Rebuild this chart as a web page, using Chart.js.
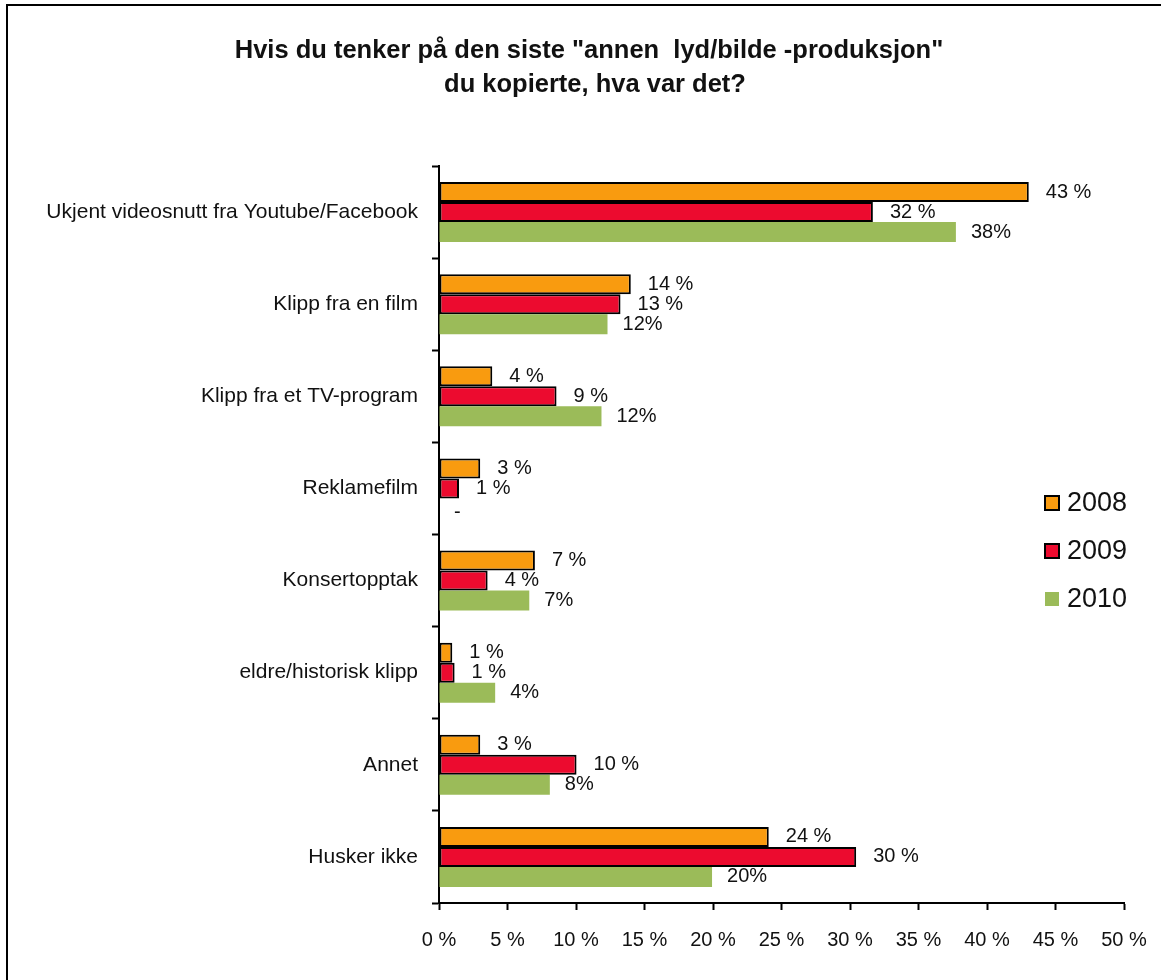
<!DOCTYPE html>
<html>
<head>
<meta charset="utf-8">
<script src="https://cdn.jsdelivr.net/npm/chart.js@4"></script>
<style>
  html, body { margin: 0; padding: 0; background: #fff; overflow: hidden; }
  canvas { display: block; }
</style>
</head>
<body>
<canvas id="c" width="1161" height="980"></canvas>
<script>
const titleLines = ['Hvis du tenker på den siste "annen  lyd/bilde -produksjon"', 'du kopierte, hva var det?'];
const categories = [
  'Ukjent videosnutt fra Youtube/Facebook',
  'Klipp fra en film',
  'Klipp fra et TV-program',
  'Reklamefilm',
  'Konsertopptak',
  'eldre/historisk klipp',
  'Annet',
  'Husker ikke'
];
const seriesNames = ['2008', '2009', '2010'];
const values2008 = [43.05, 14.0, 3.89, 3.01, 7.0, 0.97, 3.01, 24.07];
const values2009 = [31.67, 13.25, 8.58, 1.46, 3.55, 1.14, 10.04, 30.45];
const values2010 = [37.73, 12.3, 11.86, 0, 6.59, 4.1, 8.09, 19.93];
const labelSuffixes = [' %', ' %', '%'];
const xTickValues = [0, 5, 10, 15, 20, 25, 30, 35, 40, 45, 50];

const colors = ['#F99B0F', '#EC0B2F', '#9BBB59'];
const borders = ['#000000', '#000000', 'rgba(0,0,0,0)'];
const borderWidths = [2, 2, 0];
const FONT = "'Liberation Sans', Arial, sans-serif";
const TEXT = '#111111';

const framePlugin = {
  id: 'frame',
  beforeDraw(chart) {
    const ctx = chart.ctx;
    ctx.save();
    ctx.strokeStyle = '#000';
    ctx.lineWidth = 2;
    ctx.beginPath();
    ctx.moveTo(7, chart.height + 5);
    ctx.lineTo(7, 5);
    ctx.lineTo(chart.width + 5, 5);
    ctx.stroke();
    // title
    ctx.fillStyle = TEXT;
    ctx.font = 'bold 25.5px ' + FONT;
    ctx.textAlign = 'center';
    ctx.textBaseline = 'middle';
    const centers = [589, 595];
    titleLines.forEach((line, i) => ctx.fillText(line, centers[i], 51 + i * 34));
    ctx.restore();
  }
};

const dataLabelPlugin = {
  id: 'dataLabels',
  afterDatasetsDraw(chart) {
    const ctx = chart.ctx;
    ctx.save();
    ctx.font = '20px ' + FONT;
    ctx.fillStyle = TEXT;
    ctx.textAlign = 'left';
    ctx.textBaseline = 'middle';
    chart.data.datasets.forEach((ds, di) => {
      const meta = chart.getDatasetMeta(di);
      meta.data.forEach((bar, i) => {
        const v = ds.data[i];
        const zero = v === 0;
        const txt = zero ? '-' : Math.round(v) + labelSuffixes[di];
        const off = di === 2 ? 15 : 17;
        ctx.fillText(txt, bar.x + off, bar.y + (zero ? 4 : 0));
      });
    });
    ctx.restore();
  }
};

const legendPlugin = {
  id: 'customLegend',
  afterDraw(chart) {
    const ctx = chart.ctx;
    ctx.save();
    const boxX = 1045, textX = 1067, y0 = 503, step = 48, box = 14;
    chart.data.datasets.forEach((ds, i) => {
      const cy = y0 + i * step;
      ctx.fillStyle = ds.backgroundColor;
      ctx.fillRect(boxX, cy - box / 2, box, box);
      if (ds.borderWidth > 0) {
        ctx.strokeStyle = '#000';
        ctx.lineWidth = 2;
        ctx.strokeRect(boxX, cy - box / 2, box, box);
      }
      ctx.fillStyle = TEXT;
      ctx.font = '27px ' + FONT;
      ctx.textAlign = 'left';
      ctx.textBaseline = 'middle';
      ctx.fillText(ds.label, textX, cy + 1);
    });
    ctx.restore();
  }
};

const seriesValues = [values2008, values2009, values2010];

new Chart(document.getElementById('c'), {
  type: 'bar',
  data: {
    labels: categories,
    datasets: seriesNames.map((name, i) => ({
      label: name,
      data: seriesValues[i],
      backgroundColor: colors[i],
      borderColor: borders[i],
      borderWidth: borderWidths[i],
      borderSkipped: false,
      barPercentage: 1,
      categoryPercentage: 0.65
    }))
  },
  options: {
    indexAxis: 'y',
    responsive: false,
    animation: false,
    events: [],
    layout: { padding: { left: 0, right: 37, top: 166, bottom: 0 } },
    plugins: {
      legend: { display: false },
      tooltip: { enabled: false },
      title: { display: false }
    },
    scales: {
      x: {
        type: 'linear',
        min: 0,
        max: 50,
        afterBuildTicks(scale) { scale.ticks = xTickValues.map(v => ({ value: v })); },
        afterFit(scale) { scale.height = 77; scale.paddingLeft = 0; scale.paddingRight = 0; },
        ticks: {
          callback: v => v + ' %',
          color: TEXT,
          font: { family: FONT, size: 20 },
          padding: 18,
          maxRotation: 0,
          autoSkip: false
        },
        grid: { drawOnChartArea: false, drawTicks: true, tickLength: 7, tickColor: '#000', tickWidth: 2 },
        border: { display: true, color: '#000', width: 2 }
      },
      y: {
        type: 'category',
        afterFit(scale) { scale.width = 439; },
        ticks: {
          color: TEXT,
          font: { family: FONT, size: 21 },
          padding: 14,
          autoSkip: false
        },
        grid: { drawOnChartArea: false, drawTicks: true, offset: true, tickLength: 7, tickColor: '#000', tickWidth: 2 },
        border: { display: true, color: '#000', width: 2 }
      }
    }
  },
  plugins: [framePlugin, dataLabelPlugin, legendPlugin]
});
</script>
</body>
</html>
